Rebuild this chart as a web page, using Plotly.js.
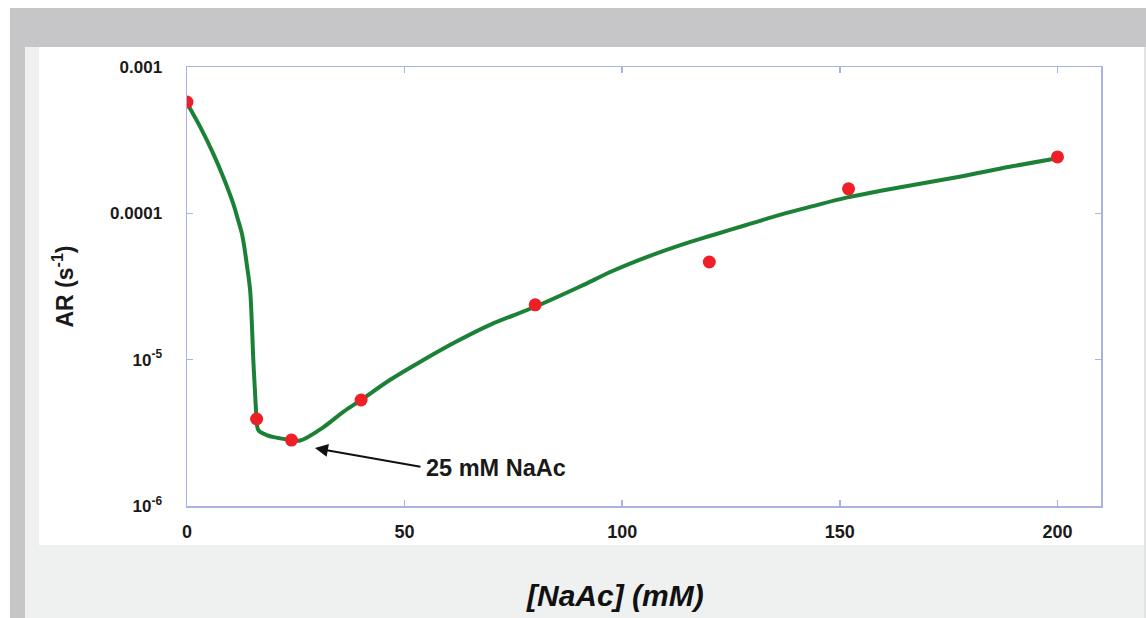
<!DOCTYPE html>
<html>
<head>
<meta charset="utf-8">
<script src="https://cdn.plot.ly/plotly-3.0.1.min.js"></script>
<style>
html,body{margin:0;padding:0;background:#ffffff;}
#chart{width:1146px;height:618px;}
</style>
</head>
<body>
<div id="chart"></div>
<script>
// Measured data points: [NaAc] (mM) vs AR (s^-1)
const pointX = [0, 16, 24, 40, 80, 120, 152, 200];
const pointY = [5.76e-4, 3.93e-6, 2.82e-6, 5.3e-6, 2.37e-5, 4.65e-5, 1.47e-4, 2.43e-4];

// Fitted curve
const curveX = [0, 3, 6, 8.3, 10.6, 11.6, 12.6, 13.2, 13.7, 14.5, 14.9, 15.2, 15.6, 16.0, 16.4, 18.3, 21.4, 24, 26,
  31.3, 35.9, 40, 46.6, 54.3, 61.9, 69.6, 80, 90.2, 97.9, 105.6, 113.2, 120.9, 128.5, 136.2, 143.8,
  151.5, 159.1, 177.5, 189, 200];
const curveY = [5.65e-4, 3.91e-4, 2.57e-4, 1.78e-4, 1.17e-4, 9.3e-5, 7.3e-5, 5.8e-5, 4.56e-5, 2.99e-5, 1.77e-5, 1.05e-5,
  6.2e-6, 3.97e-6, 3.30e-6, 3.05e-6, 2.90e-6, 2.82e-6, 2.80e-6, 3.45e-6, 4.40e-6, 5.30e-6, 7.26e-6,
  9.95e-6, 1.33e-5, 1.73e-5, 2.30e-5, 3.15e-5, 4.05e-5, 5.02e-5, 6.04e-5, 7.11e-5, 8.32e-5, 9.75e-5,
  1.12e-4, 1.28e-4, 1.42e-4, 1.78e-4, 2.08e-4, 2.38e-4];

const xTickVals = [0, 50, 100, 150, 200];
const yTickVals = [1e-3, 1e-4, 1e-5, 1e-6];
const yTickText = ['0.001', '0.0001', '10<sup>-5</sup>', '10<sup>-6</sup>'];

const xTitle = '[NaAc] (mM)';
const yTitle = 'AR (s<sup>-1</sup>)';
const noteText = '25 mM NaAc';

// layout geometry
const W = 1146, H = 618;
const L = 187, R = 1101, T = 67, B = 506;
const px = v => (v - L) / (R - L);
const py = v => (B - v) / (B - T);

const FONT = 'Liberation Sans, Arial, Helvetica, sans-serif';
const TXT = '#1a1a1a';
const FRAME = '#a9b2e0';

function rect(x0, y0, x1, y1, color) {
  return {type: 'rect', xref: 'paper', yref: 'paper', layer: 'below',
    x0: px(x0), x1: px(x1), y0: py(y1), y1: py(y0),
    line: {width: 0}, fillcolor: color};
}

const traces = [
  {x: curveX, y: curveY, mode: 'lines', type: 'scatter',
   line: {color: '#1b8136', width: 4, shape: 'spline', smoothing: 1},
   hoverinfo: 'skip', showlegend: false},
  {x: pointX, y: pointY, mode: 'markers', type: 'scatter',
   marker: {color: '#ee1f26', size: 13, line: {width: 0}},
   showlegend: false}
];

const layout = {
  width: W, height: H,
  margin: {l: L, r: W - R, t: T, b: H - B, pad: 0},
  paper_bgcolor: '#eff1f0',
  plot_bgcolor: '#ffffff',
  showlegend: false,
  font: {family: FONT, color: TXT},
  xaxis: {
    range: [0, 210], tickvals: xTickVals, ticks: 'inside', ticklen: 6,
    tickcolor: FRAME, tickwidth: 1.5, showline: true, linecolor: FRAME, linewidth: 1.5,
    mirror: 'ticks', showgrid: false, zeroline: false,
    tickfont: {size: 18, weight: 700, color: TXT, family: FONT},
    ticklabelstandoff: 9
  },
  yaxis: {
    type: 'log', range: [-6, -3], tickvals: yTickVals, ticktext: yTickText,
    ticks: 'inside', ticklen: 6, tickcolor: FRAME, tickwidth: 1.5,
    showline: true, linecolor: FRAME, linewidth: 1.5, mirror: 'ticks',
    showgrid: false, zeroline: false,
    tickfont: {size: 17, weight: 700, color: TXT, family: FONT},
    ticklabelstandoff: 20,
    title: {text: yTitle, font: {size: 23, weight: 700, color: TXT, family: FONT}, standoff: 30}
  },
  shapes: [
    rect(0, 0, W, 8, '#ffffff'),
    rect(0, 0, 10, H, '#ffffff'),
    rect(10, 8, W, 47, '#c6c6c8'),
    rect(10, 8, 25, H, '#c6c6c8'),
    rect(39, 47, 1144, 545, '#ffffff'),
    rect(1144, 47, W, H, '#e2e3e3')
  ],
  annotations: [
    {xref: 'x', yref: 'y', x: 29.4, y: -5.604, ax: 107, ay: 19, axref: 'pixel', ayref: 'pixel',
     text: '', showarrow: true, arrowhead: 2, arrowsize: 1.3, arrowwidth: 2, arrowcolor: '#111111', standoff: 0},
    {xref: 'paper', yref: 'paper', x: px(424), y: py(468), xanchor: 'left', yanchor: 'middle',
     text: noteText, showarrow: false, font: {size: 23.5, weight: 700, color: TXT, family: FONT}},
    {xref: 'paper', yref: 'paper', x: px(615), y: py(595), xanchor: 'center', yanchor: 'middle',
     text: '<i>' + xTitle + '</i>', showarrow: false,
     font: {size: 30, weight: 700, color: '#111111', family: FONT}}
  ]
};

Plotly.newPlot('chart', traces, layout, {displayModeBar: false, staticPlot: true});
</script>
</body>
</html>
